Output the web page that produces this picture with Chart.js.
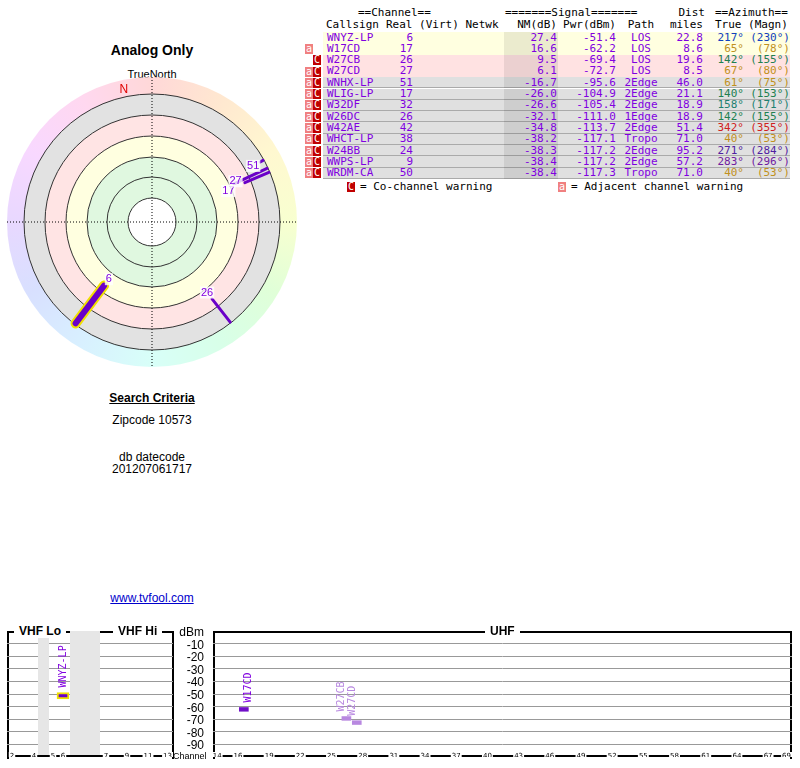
<!DOCTYPE html>
<html>
<head>
<meta charset="utf-8">
<script src="https://cdn.jsdelivr.net/npm/chart.js@4.4.0/dist/chart.umd.min.js"></script>
<style>
body { margin:0; width:800px; height:768px; position:relative; background:#fff; font-family:"Liberation Sans", Arial, sans-serif; overflow:hidden; }
.abs { position:absolute; }
.mono { font-family:"DejaVu Sans Mono", monospace; font-size:11px; line-height:12px; }
.c { text-align:center; }
.r { text-align:right; }
.badge { position:absolute; width:8px; height:10px; font-size:10px; line-height:10px; text-align:center; color:#fff; font-family:"DejaVu Sans Mono", monospace; }
.ba { background:#f08080; }
.bc { background:#c00000; }
.box { position:absolute; border:2px solid #000; border-bottom:none; }
.lbl { position:absolute; background:#fff; font-weight:bold; font-size:12px; padding:0 5px; z-index:5; }
</style>
</head>
<body>
<div class="abs c" style="left:0;width:304px;top:42px;font-weight:bold;font-size:14px">Analog Only</div>
<div class="abs c" style="left:0;width:304px;top:68px;font-size:11px">TrueNorth</div>
<div class="abs" style="left:0;top:70px;width:304px;height:304px"><canvas id="polar"></canvas></div>

<div class="abs c" style="left:0;width:304px;top:391px;font-weight:bold;font-size:12px;text-decoration:underline">Search Criteria</div>
<div class="abs c" style="left:0;width:304px;top:413px;font-size:12px">Zipcode 10573</div>
<div class="abs c" style="left:0;width:304px;top:450px;font-size:12px">db datecode</div>
<div class="abs c" style="left:0;width:304px;top:462px;font-size:12px">201207061717</div>
<div class="abs c" style="left:0;width:304px;top:591px;font-size:12px;color:#00c;text-decoration:underline">www.tvfool.com</div>

<div id="table"></div>

<div class="box" style="left:7px;top:631px;width:163px;height:126px"></div>
<div class="box" style="left:213px;top:631px;width:575px;height:126px"></div>
<div class="lbl" style="left:14px;top:624px">VHF Lo</div>
<div class="lbl" style="left:113px;top:624px">VHF Hi</div>
<div class="lbl" style="left:485px;top:624px">UHF</div>
<div class="abs" style="left:7px;top:631px;width:166px;height:126px"><canvas id="vhf"></canvas></div>
<div class="abs" style="left:213px;top:631px;width:579px;height:126px"><canvas id="uhf"></canvas></div>
<div id="dbm"></div>

<script>
`use strict`;

// station list
const stations = [
  { call:"WNYZ-LP", real:6,  nm:27.4,  pwr:-51.4,  path:"LOS",   dist:22.8, tru:217, mag:230, flags:"",   bg:"#ffffe0", az:"#1040c0" },
  { call:"W17CD",   real:17, nm:16.6,  pwr:-62.2,  path:"LOS",   dist:8.6,  tru:65,  mag:78,  flags:"a",  bg:"#ffffe0", az:"#c09020" },
  { call:"W27CB",   real:26, nm:9.5,   pwr:-69.4,  path:"LOS",   dist:19.6, tru:142, mag:155, flags:"c",  bg:"#ffe2e2", az:"#208050" },
  { call:"W27CD",   real:27, nm:6.1,   pwr:-72.7,  path:"LOS",   dist:8.5,  tru:67,  mag:80,  flags:"ac", bg:"#ffe2e2", az:"#c09020" },
  { call:"WNHX-LP", real:51, nm:-16.7, pwr:-95.6,  path:"2Edge", dist:46.0, tru:61,  mag:75,  flags:"ac", bg:"#e0e0e0", az:"#c09020" },
  { call:"WLIG-LP", real:17, nm:-26.0, pwr:-104.9, path:"2Edge", dist:21.1, tru:140, mag:153, flags:"ac", bg:"#e0e0e0", az:"#208050" },
  { call:"W32DF",   real:32, nm:-26.6, pwr:-105.4, path:"2Edge", dist:18.9, tru:158, mag:171, flags:"ac", bg:"#e0e0e0", az:"#208070" },
  { call:"W26DC",   real:26, nm:-32.1, pwr:-111.0, path:"1Edge", dist:18.9, tru:142, mag:155, flags:"ac", bg:"#e0e0e0", az:"#208050" },
  { call:"W42AE",   real:42, nm:-34.8, pwr:-113.7, path:"2Edge", dist:51.4, tru:342, mag:355, flags:"ac", bg:"#e0e0e0", az:"#d02020" },
  { call:"WHCT-LP", real:38, nm:-38.2, pwr:-117.1, path:"Tropo", dist:71.0, tru:40,  mag:53,  flags:"ac", bg:"#e0e0e0", az:"#c09020" },
  { call:"W24BB",   real:24, nm:-38.3, pwr:-117.2, path:"2Edge", dist:95.2, tru:271, mag:284, flags:"ac", bg:"#e0e0e0", az:"#5020a0" },
  { call:"WWPS-LP", real:9,  nm:-38.4, pwr:-117.2, path:"2Edge", dist:57.2, tru:283, mag:296, flags:"ac", bg:"#e0e0e0", az:"#7020a0" },
  { call:"WRDM-CA", real:50, nm:-38.4, pwr:-117.3, path:"Tropo", dist:71.0, tru:40,  mag:53,  flags:"ac", bg:"#e0e0e0", az:"#c09020" }
];

const purple = "#8000e0";

// ---- table ----
let html = "";
function cell(x, y, w, txt, align, color, extra) {
  return `<div class="abs mono" style="left:${x}px;top:${y}px;width:${w}px;text-align:${align};color:${color};white-space:pre;${extra||""}">${txt}</div>`;
}
html += cell(358, 7, 80, "==Channel==", "left", "#000");
html += cell(505, 7, 170, "=======Signal=======", "left", "#000");
html += cell(665, 7, 40, "Dist", "right", "#000");
html += cell(715, 7, 80, "==Azimuth==", "left", "#000");
html += cell(326, 19, 60, "Callsign", "left", "#000");
html += cell(386, 19, 120, "Real (Virt) Netwk", "left", "#000");
html += cell(505, 19, 52, "NM(dB)", "right", "#000");
html += cell(560, 19, 56, "Pwr(dBm)", "right", "#000");
html += cell(618, 19, 46, "Path", "center", "#000");
html += cell(660, 19, 43, "miles", "right", "#000");
html += cell(715, 19, 76, "True (Magn)", "left", "#000");
const rowH = 11.3;
stations.forEach((s, i) => {
  const y = 32 + i * rowH;
  html += `<div class="abs" style="left:323px;top:${y}px;width:467px;height:${rowH}px;background:${s.bg};border-bottom:${s.bg=="#e0e0e0"?"1px solid #aaa":"none"};box-sizing:border-box"></div>`;
  html += `<div class="abs" style="left:504px;top:${y}px;width:54px;height:${rowH}px;background:rgba(0,0,0,0.08)"></div>`;
  if (s.flags.includes("a")) html += `<div class="badge ba" style="left:305px;top:${y+0.6}px">a</div>`;
  if (s.flags.includes("c")) html += `<div class="badge bc" style="left:313px;top:${y+0.6}px">C</div>`;
  html += cell(327, y - 0.5, 60, s.call, "left", purple);
  html += cell(380, y - 0.5, 33, s.real, "right", purple);
  html += cell(505, y - 0.5, 52, s.nm.toFixed(1), "right", purple);
  html += cell(560, y - 0.5, 56, s.pwr.toFixed(1), "right", purple);
  html += cell(618, y - 0.5, 46, s.path, "center", purple);
  html += cell(660, y - 0.5, 43, s.dist.toFixed(1), "right", purple);
  html += cell(700, y - 0.5, 44, s.tru + "°", "right", s.az);
  html += cell(744, y - 0.5, 46, "(" + s.mag + "°)", "right", s.az);
});
html += `<div class="badge bc" style="left:347px;top:182px">C</div>`;
html += cell(360, 181, 140, "= Co-channel warning", "left", "#000");
html += `<div class="badge ba" style="left:558px;top:182px">a</div>`;
html += cell(571, 181, 200, "= Adjacent channel warning", "left", "#000");
document.getElementById("table").innerHTML = html;

let dh = "";
["dBm","-10","-20","-30","-40","-50","-60","-70","-80","-90"].forEach((t, i) => {
  dh += `<div class="abs r" style="left:170px;width:34px;top:${625 + i * 12.6}px;font-size:12px">${t}</div>`;
});
dh += `<div class="abs" style="left:173px;top:751px;font-size:9px">Channel</div>`;
document.getElementById("dbm").innerHTML = dh;

// ---- polar plot ----
// ray radius from noise margin, ring at 0dB = 107px
const R_OUT = 127;
function nmRadius(nm) { return Math.min(107 - nm, R_OUT - 3); }
function pol(r, az) { const a = az * Math.PI / 180; return { x: r * Math.sin(a), y: r * Math.cos(a) }; }

const rayData = stations.filter(s => s.nm > -21);
const polarSets = rayData.map((s, i) => ({
  data: [pol(nmRadius(s.nm), s.tru), pol(R_OUT, s.tru)],
  showLine: true,
  borderColor: "#6a00c8",
  borderWidth: i == 0 ? 6 : 3,
  pointRadius: 0,
  borderCapStyle: "round"
}));
// yellow halo for the strongest station (last dataset is drawn underneath)
polarSets.push({
  data: [pol(nmRadius(rayData[0].nm), rayData[0].tru), pol(R_OUT, rayData[0].tru)],
  showLine: true, borderColor: "#f0e000", borderWidth: 10, pointRadius: 0, borderCapStyle: "round"
});

const polarBg = {
  id: "polarBg",
  beforeDatasetsDraw(chart) {
    const ctx = chart.ctx, sx = chart.scales.x, sy = chart.scales.y;
    const cx = sx.getPixelForValue(0), cy = sy.getPixelForValue(0);
    const k = sx.getPixelForValue(1) - cx;
    ctx.save();
    const g = ctx.createConicGradient(-Math.PI / 2, cx, cy);
    ["#ffd8d8","#ffe8d0","#fff8d0","#f8ffd0","#e0ffd8","#d8ffe8","#d8fff8","#d8f0ff","#d8e0ff","#e8d8ff","#f8d8ff","#ffd8f0","#ffd8d8"]
      .forEach((c, i, a) => g.addColorStop(i / (a.length - 1), c));
    ctx.fillStyle = g;
    ctx.beginPath(); ctx.arc(cx, cy, 145 * k, 0, 2 * Math.PI); ctx.fill();
    const bands = [[128, "#e2e2e2"], [107, "#ffe4e4"], [86, "#ffffe0"], [65, "#e0f8e0"], [24, "#ffffff"]];
    bands.forEach(b => { ctx.fillStyle = b[1]; ctx.beginPath(); ctx.arc(cx, cy, b[0] * k, 0, 2 * Math.PI); ctx.fill(); });
    ctx.strokeStyle = "#333"; ctx.lineWidth = 1;
    [24, 45, 65, 86, 107, 128].forEach(r => { ctx.beginPath(); ctx.arc(cx, cy, r * k, 0, 2 * Math.PI); ctx.stroke(); });
    ctx.setLineDash([1, 2]); ctx.strokeStyle = "#000";
    ctx.beginPath(); ctx.moveTo(cx - 145 * k, cy); ctx.lineTo(cx + 145 * k, cy);
    ctx.moveTo(cx, cy - 145 * k); ctx.lineTo(cx, cy + 145 * k); ctx.stroke();
    ctx.setLineDash([]);
    ctx.fillStyle = "#e00000"; ctx.font = "12px 'Liberation Sans'"; ctx.textAlign = "center"; ctx.textBaseline = "middle";
    const n = pol(135, -12);
    ctx.fillText("N", sx.getPixelForValue(n.x), sy.getPixelForValue(n.y));
    ctx.restore();
  },
  afterDatasetsDraw(chart) {
    const ctx = chart.ctx, sx = chart.scales.x, sy = chart.scales.y;
    ctx.save();
    ctx.font = "11px 'Liberation Sans'"; ctx.textAlign = "center"; ctx.textBaseline = "middle";
    rayData.forEach(s => {
      const p = pol(nmRadius(s.nm) - 8, s.tru + (s.real == 17 ? 3 : s.real == 27 ? -3 : 0));
      const px = sx.getPixelForValue(p.x), py = sy.getPixelForValue(p.y);
      ctx.fillStyle = "rgba(255,255,255,0.8)";
      const w = ctx.measureText(s.real).width;
      ctx.fillRect(px - w / 2 - 1, py - 6, w + 2, 12);
      ctx.fillStyle = purple;
      ctx.fillText(s.real, px, py);
    });
    ctx.restore();
  }
};

new Chart(document.getElementById("polar"), {
  type: "scatter",
  data: { datasets: polarSets },
  options: {
    responsive: true, maintainAspectRatio: false, animation: false,
    layout: { padding: 0 },
    plugins: { legend: { display: false }, tooltip: { enabled: false } },
    scales: {
      x: { min: -152, max: 152, display: false },
      y: { min: -152, max: 152, display: false }
    }
  },
  plugins: [polarBg]
});

// ---- spectrum ----
// horizontal position of each VHF channel label along the panel
const vhfPos = { 2:5, 3:16, 4:27, 5:46, 6:56, 7:99, 8:110, 9:120, 10:131, 11:141, 12:151, 13:161 };
const vhfTicks = [2, 4, 5, 6, 7, 9, 11, 13];
const uhfTicks = [14, 16, 19, 22, 25, 28, 31, 34, 37, 40, 43, 46, 49, 52, 55, 58, 61, 64, 67, 69];

function spectrumPlugin(ticks, posOf, bands) {
  return {
    id: "spec",
    beforeDatasetsDraw(chart) {
      const ctx = chart.ctx, sx = chart.scales.x, a = chart.chartArea;
      ctx.save();
      ctx.fillStyle = "#e6e6e6";
      bands.forEach(b => {
        const x0 = sx.getPixelForValue(b[0]), x1 = sx.getPixelForValue(b[1]);
        ctx.fillRect(x0, a.top, x1 - x0, a.bottom - a.top);
      });
      ctx.restore();
    },
    afterDatasetsDraw(chart) {
      const ctx = chart.ctx, sx = chart.scales.x, sy = chart.scales.y, a = chart.chartArea;
      ctx.save();
      ctx.strokeStyle = "#000"; ctx.lineWidth = 2;
      ctx.beginPath(); ctx.moveTo(a.left, a.bottom - 1); ctx.lineTo(a.right, a.bottom - 1); ctx.stroke();
      ctx.font = "7px 'DejaVu Sans'"; ctx.textAlign = "center"; ctx.textBaseline = "middle";
      ticks.forEach(t => {
        let x = sx.getPixelForValue(posOf(t));
        const w = ctx.measureText(t).width + 2;
        x = Math.min(x, a.right - w / 2);
        ctx.fillStyle = "#fff"; ctx.fillRect(x - w / 2, a.bottom - 5, w, 8);
        ctx.fillStyle = "#000"; ctx.fillText(t, x, a.bottom - 1);
      });
      // rotated callsigns above each mark
      ctx.font = "10px 'DejaVu Sans Mono'"; ctx.textAlign = "left"; ctx.textBaseline = "middle";
      chart.data.datasets.forEach(ds => {
        ds.data.forEach((d, i) => {
          const x = sx.getPixelForValue(d.x), y = sy.getPixelForValue(d.y[1]);
          ctx.save();
          ctx.translate(x, y - 5);
          ctx.rotate(-Math.PI / 2);
          ctx.fillStyle = ds.labelColor;
          ctx.fillText(ds.names[i], 0, 0);
          ctx.restore();
        });
      });
      ctx.restore();
    }
  };
}

function specOptions(min, max) {
  return {
    responsive: true, maintainAspectRatio: false, animation: false,
    layout: { padding: 0 },
    plugins: { legend: { display: false }, tooltip: { enabled: false } },
    scales: {
      x: { type: "linear", min: min, max: max, display: false, offset: false },
      y: {
        min: -100, max: 0, display: true,
        afterFit: s => { s.width = 0; },
        ticks: { display: false, stepSize: 10 },
        border: { display: false },
        grid: { color: ctx => (ctx.tick.value > -100 && ctx.tick.value < 0) ? "#999" : "transparent", lineWidth: 1, drawTicks: false, borderDash: [1, 1] }
      }
    }
  };
}

function mark(s, pos, h) { return { x: pos, y: [s.pwr - h, s.pwr + h] }; }
const vhfSt = stations.filter(s => s.real <= 13 && s.nm > 0);
const uhfStrong = stations.filter(s => s.real >= 14 && s.nm > 10);
const uhfWeak = stations.filter(s => s.real >= 14 && s.nm > 0 && s.nm <= 10);

new Chart(document.getElementById("vhf"), {
  type: "bar",
  data: { datasets: [{
    data: vhfSt.map(s => mark(s, vhfPos[s.real], 2.6)), names: vhfSt.map(s => s.call),
    backgroundColor: "#6a00c8", borderColor: "#f0e000", borderWidth: 2, borderSkipped: false, barThickness: 12,
    labelColor: purple
  }] },
  options: specOptions(0, 166),
  plugins: [spectrumPlugin(vhfTicks, t => vhfPos[t], [[31, 42], [63, 93]])]
});

new Chart(document.getElementById("uhf"), {
  type: "bar",
  data: { datasets: [
    { data: uhfStrong.map(s => mark(s, s.real, 1.5)), names: uhfStrong.map(s => s.call),
      backgroundColor: "#7010c8", barThickness: 9, labelColor: purple },
    { data: uhfWeak.map(s => mark(s, s.real, 1.5)), names: uhfWeak.map(s => s.call),
      backgroundColor: "#b888e0", barThickness: 9, labelColor: "#b888e0" }
  ] },
  options: specOptions(13.6, 69.3),
  plugins: [spectrumPlugin(uhfTicks, t => t, [])]
});
</script>
</body>
</html>
